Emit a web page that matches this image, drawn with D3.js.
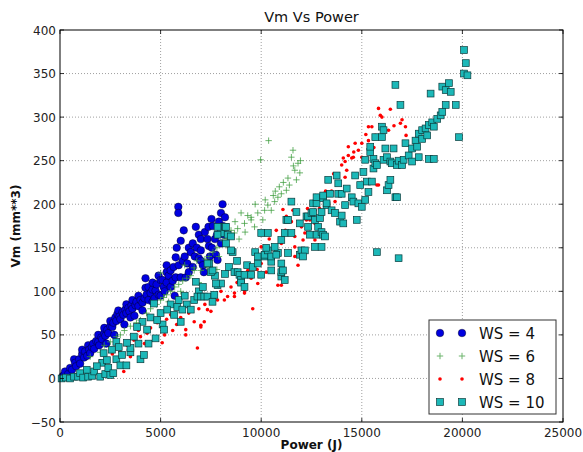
<!DOCTYPE html>
<html><head><meta charset="utf-8">
<script src="https://cdn.jsdelivr.net/npm/d3@7"></script>
<style>body{margin:0;background:#fff;}svg{display:block;font-family:"DejaVu Sans",sans-serif;}</style>
</head><body>
<svg id="c" width="583" height="452"></svg>
<script>
const xTicks = [0,5000,10000,15000,20000,25000];
const yTicks = [-50,0,50,100,150,200,250,300,350,400];
const seriesNames = ["WS = 4","WS = 6","WS = 8","WS = 10"];

const ws4 = [[150,3],[250,8],[400,5],[500,12],[600,10],[700,22],[750,18],[800,14],[950,22],[1000,17],[1100,28],[1100,33],[1200,24],[1250,31],[1350,26],[1400,38],[1450,33],[1500,29],[1580,36],[1650,40],[1700,34],[1800,43],[1900,42],[1900,50],[1950,38],[2050,47],[2100,45],[2200,52],[2200,58],[2250,49],[2300,40],[2350,56],[2400,52],[2500,60],[2500,66],[2600,59],[2650,64],[2700,50],[2750,70],[2800,66],[2850,74],[2900,78],[2950,71],[3000,68],[3100,76],[3150,73],[3200,62],[3250,79],[3300,75],[3300,85],[3400,81],[3450,77],[3500,70],[3550,84],[3600,80],[3600,90],[3700,72],[3750,84],[3800,88],[3900,83],[3900,95],[4000,90],[4100,87],[4100,78],[4200,92],[4250,115],[4250,104],[4300,96],[4400,90],[4400,105],[4500,98],[4600,102],[4600,88],[4600,110],[4700,92],[4750,101],[4800,108],[4900,96],[4900,118],[5000,113],[5000,95],[5100,113],[5150,105],[5200,100],[5300,110],[5300,122],[5300,130],[5400,118],[5500,124],[5500,105],[5600,112],[5650,128],[5700,95],[5750,139],[5750,116],[5800,150],[5880,197],[5880,190],[5900,130],[6000,158],[6000,116],[6100,135],[6150,170],[6200,140],[6250,116],[6330,132],[6400,122],[6400,150],[6500,145],[6600,128],[6600,155],[6700,140],[6750,174],[6800,150],[6900,138],[6900,165],[7000,147],[7000,160],[7000,135],[7100,130],[7150,122],[7200,168],[7330,160],[7380,174],[7400,152],[7450,140],[7530,183],[7550,150],[7600,175],[7700,160],[7750,142],[7800,165],[7830,136],[7900,180],[8000,155],[8000,190],[8080,200],[8100,175],[8150,165],[8200,185]];

const ws6 = [[10370,273],[9970,251],[11580,262],[11500,254],[11830,247],[11920,236],[11330,230],[11250,216],[10830,208],[10670,203],[10330,199],[10170,193],[9830,190],[9500,182],[9170,178],[8830,172],[9500,185],[9330,187],[8670,167],[9670,174],[10080,182],[10500,193],[11670,239],[11750,228],[11400,222],[11000,212],[10900,220],[11600,244],[11950,250],[10600,210],[9000,190],[8700,180],[8500,170],[8300,160],[8100,158],[7800,150],[7600,145],[7400,140],[7200,137],[7000,124],[6670,127],[6500,118],[6300,115],[6100,112],[5900,108],[5700,105],[5500,100],[5300,96],[5150,93],[5000,90],[4800,85],[4500,80],[4300,75],[4000,67],[3800,64],[3500,60],[3200,55],[3000,50],[2800,48],[2500,42],[2200,38],[2000,30],[1500,25],[7800,125],[7300,128],[6900,110],[6200,130],[6800,135],[8900,160],[9200,168],[5000,121],[6670,124],[8400,150],[7900,140],[9700,200],[10200,205],[11100,225],[10700,215],[6000,100],[5400,88]];

const ws8 = [[2000,20],[2600,28],[3000,30],[3170,8],[3330,38],[3500,25],[3670,44],[3900,55],[4000,48],[4200,40],[4330,52],[4500,58],[4700,45],[4830,64],[5080,41],[5200,50],[5300,68],[5500,73],[5600,55],[5800,62],[6000,70],[6250,56],[6250,50],[6400,75],[6670,65],[6830,35],[6900,80],[7000,61],[7000,59],[7170,65],[7200,85],[7330,79],[7500,77],[7500,88],[7700,95],[7830,90],[8000,100],[8170,90],[8330,94],[8500,105],[8670,94],[8670,98],[8800,110],[9170,98],[9170,101],[9250,130],[9330,124],[9500,115],[9580,80],[9800,125],[9830,109],[10000,132],[10000,151],[10200,140],[10250,122],[10330,144],[10400,160],[10600,150],[10750,170],[10830,107],[11000,107],[11000,155],[11080,194],[11200,170],[11250,186],[11330,144],[11500,180],[11580,193],[11670,140],[11670,151],[11670,163],[11830,130],[12000,174],[12080,159],[12170,167],[12170,186],[12250,182],[12300,195],[12420,172],[12420,182],[12670,159],[12670,178],[12670,193],[12700,210],[12900,195],[13000,170],[13200,200],[13200,215],[13500,215],[13600,235],[13670,203],[13800,225],[14000,245],[14080,253],[14170,231],[14170,249],[14250,239],[14330,256],[14330,266],[14500,253],[14580,254],[14600,260],[14670,270],[14830,262],[15000,254],[15000,270],[15200,280],[15330,273],[15330,289],[15500,289],[15600,265],[15670,279],[15750,222],[15830,310],[15830,222],[15920,302],[16000,300],[16330,285],[16420,309],[16600,290],[16920,293],[17000,297],[17170,289],[17200,279]];

const ws10 = [[80,0],[300,1],[500,0],[700,2],[900,2],[1000,6],[1150,1],[1400,2],[1600,3],[1700,8],[2000,2],[2100,18],[2250,5],[2400,12],[2500,4],[2650,6],[2800,22],[2800,42],[3000,15],[3300,15],[3500,30],[3500,35],[3900,40],[4000,22],[4100,65],[4400,40],[4500,70],[5000,75],[5100,62],[5500,85],[5900,90],[6000,65],[6200,95],[6300,85],[6900,100],[7100,105],[7700,118],[8200,120],[8400,128],[8800,135],[9300,130],[9700,145],[1330,10],[1830,14],[2330,21],[2170,29],[2580,33],[3080,27],[2920,36],[3330,41],[3670,48],[4170,27],[3830,59],[4330,56],[4750,46],[5170,56],[4830,67],[4670,86],[5330,79],[5670,73],[5830,82],[6080,79],[6500,79],[6670,90],[6830,94],[7000,94],[7170,94],[7330,94],[7670,96],[7580,88],[7830,107],[8000,109],[7750,109],[6750,111],[7500,122],[7580,124],[7420,132],[7330,132],[8580,145],[8500,147],[8670,122],[8830,122],[8920,119],[9000,113],[9000,110],[9170,105],[9170,119],[9500,119],[9580,128],[9830,132],[9830,140],[10000,119],[10170,140],[10170,142],[10330,147],[10500,134],[10500,140],[10500,124],[10830,144],[11000,117],[11000,122],[11000,132],[11080,124],[11170,113],[11330,144],[11920,142],[8000,167],[7830,174],[8200,174],[8330,165],[8250,174],[8500,163],[7830,165],[8250,155],[10000,167],[10330,167],[10250,150],[10670,151],[10750,142],[11000,159],[11170,167],[11500,167],[12000,147],[12670,151],[13000,151],[12170,147],[12080,140],[11500,203],[11750,191],[11250,182],[11330,182],[11920,178],[12250,186],[12330,174],[12330,186],[12420,165],[12500,190],[12580,191],[12580,201],[12670,182],[12750,165],[12750,201],[12750,208],[12830,174],[12920,184],[13000,168],[13000,191],[13080,165],[13080,207],[13080,210],[13170,163],[13250,199],[13250,201],[13330,228],[13420,212],[13500,193],[13670,190],[13750,233],[13830,212],[13830,224],[13920,180],[14000,187],[14000,212],[14080,178],[14170,199],[14250,218],[14500,208],[14580,203],[14670,233],[14750,182],[14830,201],[14920,222],[15000,197],[15080,237],[15170,205],[15170,251],[15250,226],[15330,214],[15420,260],[15420,266],[15500,226],[15580,241],[15580,252],[15670,247],[15670,277],[15750,145],[15750,245],[16000,277],[16000,289],[16080,285],[16080,251],[16170,264],[16250,216],[16250,254],[16330,222],[16420,228],[16420,249],[16500,247],[16580,264],[16670,337],[16670,208],[16750,208],[16750,245],[16830,138],[16830,250],[16920,314],[17000,245],[17080,251],[17170,270],[17330,256],[17500,249],[17500,264],[17670,273],[17750,266],[17830,254],[17830,281],[18000,275],[18000,285],[18170,287],[18250,279],[18330,252],[18330,291],[18420,327],[18500,294],[18580,252],[18580,289],[18750,298],[18920,302],[19000,306],[19000,335],[19170,314],[19170,331],[19330,339],[19420,329],[19670,314],[19830,277],[20080,350],[20080,377],[20170,362],[20250,348]];

const svg = d3.select("#c");
const L = 60, R = 563, T = 30, B = 422;
const x = d3.scaleLinear().domain([0,25000]).range([L,R]);
const y = d3.scaleLinear().domain([-50,400]).range([B,T]);

const g = svg.append("g");
g.selectAll(".gx").data(xTicks.slice(1,-1)).enter().append("line")
  .attr("x1",d=>x(d)).attr("x2",d=>x(d)).attr("y1",T).attr("y2",B)
  .attr("stroke","#888").attr("stroke-width",0.8).attr("stroke-dasharray","1,2");
g.selectAll(".gy").data(yTicks.slice(1,-1)).enter().append("line")
  .attr("y1",d=>y(d)).attr("y2",d=>y(d)).attr("x1",L).attr("x2",R)
  .attr("stroke","#888").attr("stroke-width",0.8).attr("stroke-dasharray","1,2");

const plot = svg.append("g");
function drawSeries(data, kind, grp) {
  if (kind === "circle") {
    grp.selectAll("circle").data(data).enter().append("circle")
      .attr("cx",d=>x(d[0])).attr("cy",d=>y(d[1])).attr("r",3.8)
      .attr("fill","#0000e0").attr("stroke","#000").attr("stroke-width",0.4);
  } else if (kind === "plus") {
    grp.selectAll("path").data(data).enter().append("path")
      .attr("d",d=>{const cx=x(d[0]),cy=y(d[1]),s=3.2;return `M${cx-s},${cy}H${cx+s}M${cx},${cy-s}V${cy+s}`;})
      .attr("stroke","#3c9c3c").attr("stroke-width",1).attr("opacity",0.75).attr("fill","none");
  } else if (kind === "dot") {
    grp.selectAll("circle").data(data).enter().append("circle")
      .attr("cx",d=>x(d[0])).attr("cy",d=>y(d[1])).attr("r",1.8)
      .attr("fill","#ff0000");
  } else {
    grp.selectAll("rect").data(data).enter().append("rect")
      .attr("x",d=>x(d[0])-3.4).attr("y",d=>y(d[1])-3.4).attr("width",6.8).attr("height",6.8)
      .attr("fill","#1cb8b8").attr("stroke","#0a3c3c").attr("stroke-width",0.7);
  }
}
drawSeries(ws4,"circle",plot.append("g"));
drawSeries(ws6,"plus",plot.append("g"));
drawSeries(ws8,"dot",plot.append("g"));
drawSeries(ws10,"square",plot.append("g"));

svg.append("rect").attr("x",L).attr("y",T).attr("width",R-L).attr("height",B-T)
  .attr("fill","none").attr("stroke","#000").attr("stroke-width",1);

const tk = svg.append("g").attr("stroke","#000").attr("stroke-width",0.8);
xTicks.forEach(v=>{
  tk.append("line").attr("x1",x(v)).attr("x2",x(v)).attr("y1",B).attr("y2",B-4);
  tk.append("line").attr("x1",x(v)).attr("x2",x(v)).attr("y1",T).attr("y2",T+4);
});
yTicks.forEach(v=>{
  tk.append("line").attr("y1",y(v)).attr("y2",y(v)).attr("x1",L).attr("x2",L+4);
  tk.append("line").attr("y1",y(v)).attr("y2",y(v)).attr("x1",R).attr("x2",R-4);
});

svg.append("g").selectAll("text").data(xTicks).enter().append("text")
  .attr("x",d=>x(d)).attr("y",B+15).attr("text-anchor","middle")
  .attr("font-size",12).attr("fill","#222").text(d=>String(d));
svg.append("g").selectAll("text").data(yTicks).enter().append("text")
  .attr("x",L-4).attr("y",d=>y(d)+4.5).attr("text-anchor","end")
  .attr("font-size",12).attr("fill","#222").text(d=>d<0?"\u2212"+Math.abs(d):String(d));

svg.append("text").attr("x",(L+R)/2).attr("y",22).attr("text-anchor","middle")
  .attr("font-size",14.5).attr("fill","#111").text("Vm Vs Power");
svg.append("text").attr("x",(L+R)/2).attr("y",449).attr("text-anchor","middle")
  .attr("font-size",12).attr("font-weight","bold").attr("fill","#111").text("Power (J)");
svg.append("text").attr("transform",`translate(20,${(T+B)/2}) rotate(-90)`).attr("text-anchor","middle")
  .attr("font-size",12).attr("font-weight","bold").attr("fill","#111").text("Vm (mm**3)");

const lg = svg.append("g");
lg.append("rect").attr("x",429).attr("y",320).attr("width",127).attr("height",94)
  .attr("fill","#fff").attr("stroke","#333").attr("stroke-width",1);
const kinds = ["circle","plus","dot","square"];
seriesNames.forEach((name,i)=>{
  const cy = 333 + i*23;
  const gg = lg.append("g");
  [440,462].forEach(px=>{
    const k = kinds[i];
    if (k==="circle") gg.append("circle").attr("cx",px).attr("cy",cy).attr("r",3.8).attr("fill","#0000e0").attr("stroke","#000").attr("stroke-width",0.4);
    else if (k==="plus") gg.append("path").attr("d",`M${px-3.2},${cy}H${px+3.2}M${px},${cy-3.2}V${cy+3.2}`).attr("stroke","#3c9c3c").attr("opacity",0.75);
    else if (k==="dot") gg.append("circle").attr("cx",px).attr("cy",cy).attr("r",1.8).attr("fill","#ff0000");
    else gg.append("rect").attr("x",px-3.4).attr("y",cy-3.4).attr("width",6.8).attr("height",6.8).attr("fill","#1cb8b8").attr("stroke","#0a3c3c").attr("stroke-width",0.7);
  });
  lg.append("text").attr("x",479).attr("y",cy+5.5).attr("font-size",15).attr("fill","#111").text(name);
});
</script>
</body></html>
